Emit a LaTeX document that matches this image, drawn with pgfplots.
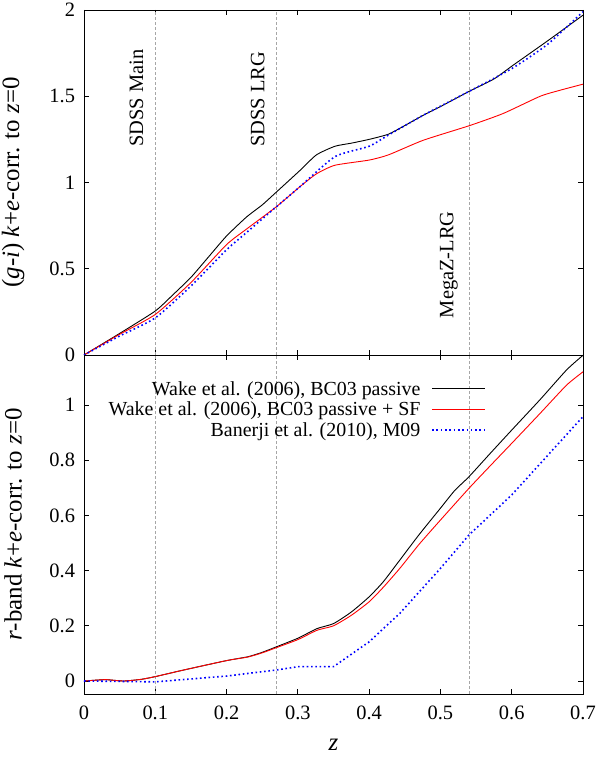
\documentclass[border=0pt]{standalone}
\usepackage{fontspec}
\setmainfont{Liberation Serif}
\usepackage{pgfplots}
\pgfplotsset{compat=1.18}

% k+e corrections
\pgfplotstableread{
z     y
0.000 0.000
0.050 0.125
0.100 0.255
0.125 0.350
0.150 0.450
0.175 0.570
0.200 0.690
0.228 0.800
0.250 0.870
0.270 0.945
0.303 1.070
0.326 1.160
0.352 1.210
0.375 1.228
0.400 1.250
0.427 1.280
0.450 1.330
0.476 1.390
0.500 1.440
0.541 1.530
0.575 1.600
0.602 1.680
0.650 1.820
0.700 1.970
}\gipass
\pgfplotstableread{
z     y
0.000 0.000
0.050 0.120
0.100 0.235
0.150 0.420
0.200 0.640
0.228 0.730
0.270 0.860
0.303 0.976
0.326 1.050
0.352 1.100
0.400 1.130
0.427 1.160
0.476 1.245
0.541 1.330
0.588 1.400
0.640 1.500
0.668 1.535
0.700 1.570
}\gisf
\pgfplotstableread{
z     y
0.000 0.000
0.050 0.110
0.100 0.215
0.150 0.400
0.200 0.610
0.228 0.710
0.270 0.860
0.303 0.976
0.352 1.150
0.400 1.210
0.427 1.275
0.476 1.390
0.541 1.530
0.600 1.660
0.650 1.800
0.700 1.990
}\gimnine
\pgfplotstableread{
z     y
0.000 0.000
0.030 0.005
0.055 0.000
0.080 0.006
0.100 0.016
0.140 0.040
0.200 0.074
0.230 0.088
0.250 0.104
0.270 0.124
0.300 0.155
0.327 0.190
0.350 0.208
0.375 0.250
0.400 0.305
0.420 0.360
0.443 0.438
0.470 0.530
0.500 0.626
0.520 0.690
0.540 0.740
0.570 0.825
0.600 0.909
0.640 1.020
0.677 1.127
0.700 1.180
}\rpass
\pgfplotstableread{
z     y
0.000 0.000
0.030 0.005
0.055 0.000
0.080 0.006
0.100 0.016
0.140 0.040
0.200 0.074
0.230 0.087
0.250 0.102
0.270 0.121
0.300 0.150
0.327 0.184
0.350 0.200
0.375 0.238
0.400 0.287
0.420 0.340
0.443 0.408
0.470 0.495
0.500 0.583
0.540 0.698
0.570 0.780
0.600 0.861
0.640 0.970
0.677 1.072
0.700 1.120
}\rsf
\pgfplotstableread{
z     y
0.000 0.000
0.100 -0.003
0.200 0.018
0.270 0.040
0.300 0.052
0.350 0.052
0.400 0.142
0.443 0.245
0.500 0.408
0.540 0.529
0.600 0.674
0.700 0.958
}\rmnine

\begin{document}
\begin{tikzpicture}[x=1bp,y=1bp]
\pgfplotsset{
  every axis/.append style={
    scale only axis, width=499bp,
    xmin=0, xmax=0.7,
    xtick={0,0.1,0.2,0.3,0.4,0.5,0.6,0.7},
    axis line style={line width=0.9bp},
    tick style={black, line width=0.8bp},
    major tick length=5bp, tick align=inside,
    tick label style={font=\fontsize{20.5}{20.5}\selectfont},
    xticklabel style={yshift=-8bp},
    yticklabel style={xshift=-5.5bp},
    /pgf/number format/assume math mode=true,
    every axis y label/.style={at={(axis description cs:-0.142,0.5)}, rotate=90,
      anchor=center, font=\fontsize{25}{25}\selectfont},
    every axis x label/.style={at={(axis description cs:0.5,-0.15)}, anchor=center,
      font=\fontsize{25}{25}\selectfont},
    extra x ticks={0.1,0.27,0.54},
    extra x tick labels={},
    extra x tick style={grid=major, major tick length=0pt,
      major grid style={gray!70, line width=0.6bp, dash pattern=on 3bp off 2bp}},
  },
}
\tikzset{pass/.style={black, line width=0.9bp, smooth, tension=0.35},
         sf/.style={red, line width=0.9bp, smooth, tension=0.35},
         mnine/.style={blue, line width=1.6bp, dash pattern=on 1.6bp off 2.7bp}}

\begin{axis}[at={(0,339bp)}, anchor=south west, height=345bp,
  ymin=0, ymax=2, ytick={0,0.5,1,1.5,2},
  xticklabels={},
  ylabel={(\textit{g}-\textit{i}) \textit{k}+\textit{e}-corr. to \textit{z}=0}]
\addplot[pass] table {\gipass};
\addplot[sf] table {\gisf};
\addplot[mnine, smooth, tension=0.35] table {\gimnine};
\node[rotate=90, anchor=base west, inner sep=0, font=\fontsize{20.5}{20.5}\selectfont] at (axis cs:0.083,1.206) {SDSS Main};
\node[rotate=90, anchor=base west, inner sep=0, font=\fontsize{20.5}{20.5}\selectfont] at (axis cs:0.253,1.206) {SDSS LRG};
\node[rotate=90, anchor=base west, inner sep=0, font=\fontsize{20.5}{20.5}\selectfont] at (axis cs:0.518,0.213) {MegaZ-LRG};
\end{axis}

\begin{axis}[at={(0,0)}, anchor=south west, height=339bp,
  ymin=-0.047, ymax=1.181, ytick={0,0.2,0.4,0.6,0.8,1},
  xlabel={\textit{z}},
  ylabel={\textit{r}-band \textit{k}+\textit{e}-corr. to \textit{z}=0},
  legend plot pos=right,
  legend cell align=right,
  legend image code/.code={\draw[#1] plot coordinates {(0bp,0bp) (26.5bp,0bp) (53bp,0bp)};},
  legend style={at={(rel axis cs:0.812,0.935)}, anchor=north east,
    draw=none, fill=none, font=\fontsize{20}{20}\selectfont,
    row sep=1.2bp,
    /tikz/every odd column/.append style={column sep=9bp}}]
\addplot[pass] table {\rpass};
\addlegendentry{Wake et al. (2006), BC03 passive}
\addplot[sf] table {\rsf};
\addlegendentry{Wake et al. (2006), BC03 passive + SF}
\addplot[mnine] table {\rmnine};
\addlegendentry{Banerji et al. (2010), M09}
\end{axis}

\pgfresetboundingbox
\path (-84bp,-65bp) rectangle (516bp,694bp);
\end{tikzpicture}
\end{document}
